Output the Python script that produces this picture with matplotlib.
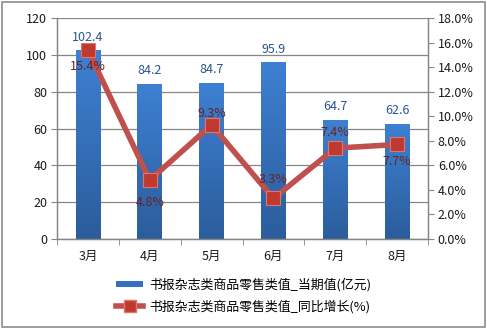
import numpy as np
import matplotlib
matplotlib.use("Agg")
import matplotlib.pyplot as plt
from matplotlib.patches import Rectangle
from matplotlib.lines import Line2D
from matplotlib.colors import LinearSegmentedColormap

plt.rcParams['font.family'] = ['Noto Sans CJK SC', 'DejaVu Sans']

# 数据
months = ["3月", "4月", "5月", "6月", "7月", "8月"]
sales_value = [102.4, 84.2, 84.7, 95.9, 64.7, 62.6]   # 亿元
yoy_growth = [15.4, 4.8, 9.3, 3.3, 7.4, 7.7]          # %
left_ticks = [0, 20, 40, 60, 80, 100, 120]
right_ticks = [0, 2, 4, 6, 8, 10, 12, 14, 16, 18]

bar_label = "书报杂志类商品零售类值_当期值(亿元)"
line_label = "书报杂志类商品零售类值_同比增长(%)"

grid_c = '#868686'
text_c = '#1a1a1a'
line_c = '#c0504d'

fig = plt.figure(figsize=(4.87, 3.29), dpi=100, facecolor='white')
fig.patches.append(Rectangle((0.004, 0.006), 0.992, 0.988, transform=fig.transFigure,
                             fill=False, edgecolor='#8c8c8c', linewidth=1.2))

ax = fig.add_axes([0.117, 0.2736, 0.762, 0.6714])
ax2 = ax.twinx()

x = np.arange(len(months))
width = 0.4

# 渐变柱
grad_cmap = LinearSegmentedColormap.from_list('bluegrad', ['#2b5d9c', '#3e80d2'])
grad = np.linspace(0, 1, 256).reshape(-1, 1)
bars = ax.bar(x, sales_value, width, color='none', edgecolor='none', zorder=2)
for b in bars:
    bx, by = b.get_x(), b.get_y()
    bw, bh = b.get_width(), b.get_height()
    im = ax.imshow(grad, cmap=grad_cmap, origin='lower', aspect='auto',
                   extent=[bx, bx + bw, by, by + bh], zorder=2)
    im.set_clip_path(b)

for xi, v in zip(x, sales_value):
    ax.annotate(f"{v:.1f}", (xi, v), xytext=(0, 5), textcoords='offset points',
                ha='center', va='bottom', fontsize=9, color='#2a5590')

ax.set_xlim(-0.5, len(months) - 0.5)
ax.set_ylim(0, 120)
ax.set_yticks(left_ticks)
ax.set_yticklabels([str(t) for t in left_ticks], fontsize=9, color=text_c)
ax.set_xticks(x)
ax.set_xticklabels(months, fontsize=9, color=text_c)
ax.set_xticks(np.arange(-0.5, len(months)), minor=True)
ax.tick_params(axis='x', which='major', length=0, pad=8)
ax.tick_params(axis='x', which='minor', length=4, color=grid_c, direction='out')
ax.tick_params(axis='y', length=4, color=grid_c, pad=3)
ax.grid(axis='y', color=grid_c, linewidth=0.9, zorder=0)
ax.set_axisbelow(True)

ax2.plot(x, yoy_growth, color=line_c, linewidth=4, marker='s', markersize=10,
         markerfacecolor='#c0392f', markeredgecolor='#e07470', markeredgewidth=0.8, zorder=4)
ax2.set_ylim(0, 18)
ax2.set_yticks(right_ticks)
ax2.set_yticklabels([f"{t:.1f}%" for t in right_ticks], fontsize=9, color=text_c)
ax2.tick_params(axis='y', length=4, color=grid_c, pad=3)

# 百分比标签偏移（单位：点）
label_dy = [-12, -16, 8, 14, 11, -12]
for xi, v, dy in zip(x, yoy_growth, label_dy):
    ax2.annotate(f"{v:.1f}%", (xi, v), xytext=(0, dy), textcoords='offset points',
                 ha='center', va='center', fontsize=9, color='#6b2220', zorder=5)

for a in (ax, ax2):
    for side in ('top', 'right', 'left', 'bottom'):
        a.spines[side].set_color(grid_c)
        a.spines[side].set_linewidth(0.9)
ax.spines['top'].set_visible(False)
ax2.spines['top'].set_visible(False)

handles = [Rectangle((0, 0), 1, 1, facecolor='#3670bd', edgecolor='none'),
           Line2D([], [], color=line_c, linewidth=4, marker='s', markersize=8,
                  markerfacecolor='#c0392f', markeredgecolor='#e07470')]
fig.legend(handles, [bar_label, line_label], loc='upper left', bbox_to_anchor=(0.228, 0.172),
           frameon=False, fontsize=9.3, handlelength=2.1, handleheight=0.35,
           labelspacing=0.62, handletextpad=0.45, borderaxespad=0)

fig.savefig('out.png', dpi=100, facecolor='white')
